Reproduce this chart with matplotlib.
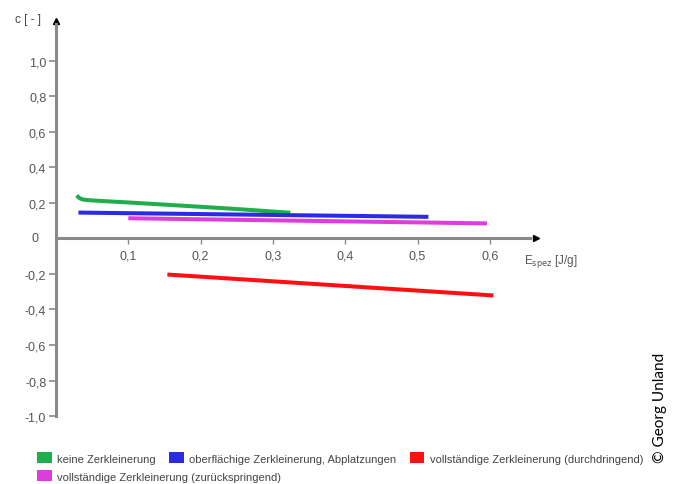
import numpy as np
import matplotlib.pyplot as plt
from matplotlib.patches import Patch

plt.rcParams['font.family'] = ['Liberation Sans', 'DejaVu Sans']

# ---- data: coefficient c vs. specific energy E_spez ----
green_x = [0.029, 0.031, 0.034, 0.038, 0.045, 0.060, 0.100, 0.170, 0.250, 0.324]
green_y = [0.244, 0.232, 0.224, 0.219, 0.216, 0.212, 0.203, 0.186, 0.166, 0.145]

blue_x = [0.031, 0.515]
blue_y = [0.146, 0.122]

magenta_x = [0.100, 0.596]
magenta_y = [0.114, 0.085]

red_x = [0.154, 0.605]
red_y = [-0.203, -0.321]

yticks = [-1.0, -0.8, -0.6, -0.4, -0.2, 0.2, 0.4, 0.6, 0.8, 1.0]
xticks = [0.1, 0.2, 0.3, 0.4, 0.5, 0.6]

labels = ["keine Zerkleinerung",
          "oberflächige Zerkleinerung, Abplatzungen",
          "vollständige Zerkleinerung (durchdringend)",
          "vollständige Zerkleinerung (zurückspringend)"]
colors = ["#1fae4c", "#2b2be6", "#ff1010", "#dd3ddd"]

fig = plt.figure(figsize=(6.74, 4.85), dpi=100)
ax = fig.add_axes([0.0831, 0.1402, 0.751, 0.8235])
ax.set_xlim(0, 0.70)
ax.set_ylim(-1.0, 1.25)

lw = 2.9
ax.plot(green_x, green_y, color=colors[0], lw=lw, solid_capstyle='butt')
ax.plot(blue_x, blue_y, color=colors[1], lw=lw, solid_capstyle='butt')
ax.plot(magenta_x, magenta_y, color=colors[3], lw=lw, solid_capstyle='butt')
ax.plot(red_x, red_y, color=colors[2], lw=lw, solid_capstyle='butt')

# axes through the origin
axis_col = "#8a8a8a"
tick_col = "#555555"
for s in ['top', 'right']:
    ax.spines[s].set_visible(False)
ax.spines['left'].set_position(('data', 0))
ax.spines['bottom'].set_position(('data', 0))
ax.spines['left'].set_bounds(-1.0, 1.21)
ax.spines['bottom'].set_bounds(0, 0.655)
for s in ['left', 'bottom']:
    ax.spines[s].set_color(axis_col)
    ax.spines[s].set_linewidth(2.2)
ax.plot([0], [1.225], marker='^', color='black', ms=5, clip_on=False)
ax.plot([0.664], [0], marker='>', color='black', ms=5, clip_on=False)

ax.set_yticks(yticks)
ax.set_yticklabels([f"{v:.1f}".replace('.', ',') for v in yticks])
ax.set_xticks(xticks)
ax.set_xticklabels([f"{v:.1f}".replace('.', ',') for v in xticks])
ax.tick_params(axis='y', length=5, width=1.2, color=axis_col, pad=2,
               labelsize=9, labelcolor=tick_col)
ax.tick_params(axis='x', length=4, width=1.0, color=axis_col, pad=4,
               labelsize=9, labelcolor=tick_col)
ax.text(-0.024, 0, "0", ha='right', va='center', fontsize=9, color=tick_col)

ax.text(-0.057, 1.235, "c [ - ]", ha='left', va='center', fontsize=8.5,
        color='#444444')
ax.text(0.647, -0.125, r"E$_{\rm spez}$ [J/g]", ha='left', va='center',
        fontsize=8.5, color=tick_col)

# legend in two rows
handles = [Patch(facecolor=c, edgecolor='none') for c in colors]
leg_kw = dict(frameon=False, fontsize=8, handlelength=1.3, handleheight=1.15,
              handletextpad=0.5, columnspacing=1.2, borderaxespad=0,
              borderpad=0, labelcolor='#444444')
fig.legend(handles[:3], labels[:3], ncol=3, loc='center left',
           bbox_to_anchor=(0.0555, 0.0535), **leg_kw)
fig.legend(handles[3:], labels[3:], ncol=1, loc='center left',
           bbox_to_anchor=(0.0555, 0.0165), **leg_kw)

fig.text(0.979, 0.16, "© Georg Unland", rotation=90, ha='center', va='center',
         fontsize=11, family=['Lato', 'DejaVu Sans'])

fig.savefig("out.png", dpi=100)
